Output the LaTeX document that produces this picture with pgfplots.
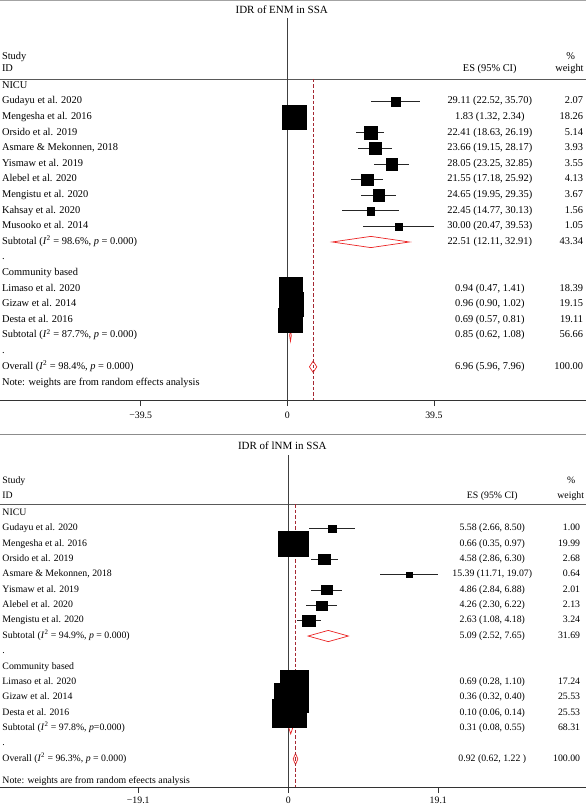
\documentclass[border=0pt]{standalone}
\usepackage{pgfplots}
\pgfplotsset{compat=1.18}
\usepackage{pgfplotstable}
\usepackage{fontspec}
\setmainfont{Liberation Serif}
\definecolor{dashred}{RGB}{165,40,50}
\definecolor{diared}{RGB}{235,35,35}
\definecolor{sepgray}{RGB}{140,140,140}

% top panel: row es lo hi weight
\pgfplotstableread{
row es lo hi w
1 29.11 22.52 35.70 2.07
2 1.83 1.32 2.34 18.26
3 22.41 18.63 26.19 5.14
4 23.66 19.15 28.17 3.93
5 28.05 23.25 32.85 3.55
6 21.55 17.18 25.92 4.13
7 24.65 19.95 29.35 3.67
8 22.45 14.77 30.13 1.56
9 30.00 20.47 39.53 1.05
13 0.94 0.47 1.41 18.39
14 0.96 0.90 1.02 19.15
15 0.69 0.57 0.81 19.11
}\topstudies

% bottom panel
\pgfplotstableread{
row es lo hi w
1 5.58 2.66 8.50 1.00
2 0.66 0.35 0.97 19.99
3 4.58 2.86 6.30 2.68
4 15.39 11.71 19.07 0.64
5 4.86 2.84 6.88 2.01
6 4.26 2.30 6.22 2.13
7 2.63 1.08 4.18 3.24
11 0.69 0.28 1.10 17.24
12 0.36 0.32 0.40 25.53
13 0.10 0.06 0.14 25.53
}\botstudies

\tikzset{
  ta/.style={font=\fontsize{10.4}{12}\selectfont, inner sep=0pt},
  tb/.style={font=\fontsize{9.8}{11}\selectfont, inner sep=0pt},
  ttl/.style={font=\fontsize{11}{13}\selectfont, inner sep=0pt},
}

\begin{document}
\begin{tikzpicture}
\useasboundingbox (0pt,0pt) rectangle (586pt,-807pt);

% ================= TOP PANEL =================
\begin{axis}[
  at={(0pt,0pt)}, anchor=north west,
  scale only axis, width=586pt, height=400pt,
  xmin=-77.42, xmax=80.49, ymin=-20.13, ymax=5.513,
  axis x line*=bottom, axis y line=none,
  xtick={-39.5,0,39.5}, xticklabels={−39.5,0,39.5},
  tick align=outside, major tick length=6pt,
  x axis line style={-, black!80, line width=0.6pt},
  xtick style={black!80, line width=0.6pt},
  xticklabel style={font=\fontsize{9.8}{11}\selectfont, anchor=mid, yshift=-10.5pt},
  ytick=\empty, clip=false,
]
% separators
\addplot[sepgray!80, line width=1pt] coordinates {(-77.42,5.45) (80.49,5.45)};
\addplot[black!65, line width=0.6pt] coordinates {(-77.42,0.45) (80.49,0.45)};
% zero line
\addplot[black!75, line width=0.6pt] coordinates {(0,4.36) (0,-20.13)};
% CIs
\addplot[black, line width=0.6pt, only marks, mark=none,
  error bars/.cd, x dir=both, x explicit, error mark=none,
  error bar style={black!85, line width=0.6pt}]
  table[x=es, y expr=-\thisrow{row},
        x error plus expr=\thisrow{hi}-\thisrow{es},
        x error minus expr=\thisrow{es}-\thisrow{lo}] {\topstudies};
% squares
\addplot[scatter, only marks, mark=square*, line width=0.2pt,
  scatter/use mapped color={draw=black, fill=black},
  visualization depends on={\thisrow{w} \as \wt},
  scatter/@pre marker code/.append style={/tikz/mark size={0.8+2.55*sqrt(\wt)}}]
  table[x=es, y expr=-\thisrow{row}] {\topstudies};
% diamonds
\addplot[diared, fill=white, line width=0.7pt] coordinates {(12.11,-10) (22.51,-9.64) (32.91,-10) (22.51,-10.36)} -- cycle;
\addplot[diared, fill=white, line width=0.7pt] coordinates {(0.62,-16) (0.85,-15.64) (1.08,-16) (0.85,-16.36)} -- cycle;
\addplot[diared, fill=white, line width=0.7pt] coordinates {(5.96,-18) (6.96,-17.64) (7.96,-18) (6.96,-18.36)} -- cycle;
% overall line
\addplot[dashred, line width=0.6pt, dash pattern=on 3.5pt off 2pt] coordinates {(6.96,0.45) (6.96,-20.13)};
% texts
\node[ttl, anchor=mid] at (axis cs:-1.5,4.81) {IDR of ENM in SSA};
\node[ta, anchor=mid west] at (axis cs:-76.93,1.86) {Study};
\node[ta, anchor=mid west] at (axis cs:-76.93,1.09) {ID};
\node[ta, anchor=mid] at (axis cs:54.57,1.09) {ES (95\% CI)};
\node[ta, anchor=mid] at (axis cs:76.4,1.86) {\%};
\node[ta, anchor=mid east] at (axis cs:79.9,1.09) {weight};
\node[ta, anchor=mid west] at (axis cs:-76.93,0) {NICU};
\foreach \r/\n/\e/\w in {
  1/Gudayu et al. 2020/29.11 (22.52{,} 35.70)/2.07,
  2/Mengesha et al. 2016/1.83 (1.32{,} 2.34)/18.26,
  3/Orsido et al. 2019/22.41 (18.63{,} 26.19)/5.14,
  4/Asmare \& Mekonnen{,} 2018/23.66 (19.15{,} 28.17)/3.93,
  5/Yismaw et al. 2019/28.05 (23.25{,} 32.85)/3.55,
  6/Alebel et al. 2020/21.55 (17.18{,} 25.92)/4.13,
  7/Mengistu et al. 2020/24.65 (19.95{,} 29.35)/3.67,
  8/Kahsay et al. 2020/22.45 (14.77{,} 30.13)/1.56,
  9/Musooko et al. 2014/30.00 (20.47{,} 39.53)/1.05,
  10/Subtotal (\textit{I}\textsuperscript{2} = 98.6\%{,} \textit{p} = 0.000)/22.51 (12.11{,} 32.91)/43.34,
  13/Limaso et al. 2020/0.94 (0.47{,} 1.41)/18.39,
  14/Gizaw et al. 2014/0.96 (0.90{,} 1.02)/19.15,
  15/Desta et al. 2016/0.69 (0.57{,} 0.81)/19.11,
  16/Subtotal (\textit{I}\textsuperscript{2} = 87.7\%{,} \textit{p} = 0.000)/0.85 (0.62{,} 1.08)/56.66,
  18/Overall (\textit{I}\textsuperscript{2} = 98.4\%{,} \textit{p} = 0.000)/6.96 (5.96{,} 7.96)/100.00}{
  \edef\tmp{\noexpand\node[ta, anchor=mid west] at (axis cs:-76.93,-\r) {\unexpanded\expandafter{\n}};
    \noexpand\node[ta, anchor=mid] at (axis cs:54.57,-\r) {\unexpanded\expandafter{\e}};
    \noexpand\node[ta, anchor=mid east] at (axis cs:79.76,-\r) {\w};}
  \tmp
}
\node[ta, anchor=mid west] at (axis cs:-76.93,-11) {.};
\node[ta, anchor=mid west] at (axis cs:-76.93,-12) {Community based};
\node[ta, anchor=mid west] at (axis cs:-76.93,-17) {.};
\node[ta, anchor=mid west] at (axis cs:-76.93,-19.05) {Note: weights are from random effects analysis};
\end{axis}

% ================= BOTTOM PANEL =================
\begin{axis}[
  at={(0pt,-435pt)}, anchor=north west,
  scale only axis, width=586pt, height=352pt,
  xmin=-36.71, xmax=37.91, ymin=-17.82, ymax=5.074,
  axis x line*=bottom, axis y line=none,
  xtick={-19.1,0,19.1}, xticklabels={−19.1,0,19.1},
  tick align=outside, major tick length=6pt,
  x axis line style={-, black!80, line width=0.6pt},
  xtick style={black!80, line width=0.6pt},
  xticklabel style={font=\fontsize{9.8}{11}\selectfont, anchor=mid, yshift=-8.5pt},
  ytick=\empty, clip=false,
]
\addplot[sepgray, line width=1.1pt] coordinates {(-36.71,5.10) (37.91,5.10)};
\addplot[black!65, line width=0.6pt] coordinates {(-36.71,0.585) (37.91,0.585)};
\addplot[black!75, line width=0.6pt] coordinates {(0,3.77) (0,-17.82)};
\addplot[black, line width=0.6pt, only marks, mark=none,
  error bars/.cd, x dir=both, x explicit, error mark=none,
  error bar style={black!85, line width=0.6pt}]
  table[x=es, y expr=-\thisrow{row},
        x error plus expr=\thisrow{hi}-\thisrow{es},
        x error minus expr=\thisrow{es}-\thisrow{lo}] {\botstudies};
\addplot[scatter, only marks, mark=square*, line width=0.2pt,
  scatter/use mapped color={draw=black, fill=black},
  visualization depends on={\thisrow{w} \as \wt},
  scatter/@pre marker code/.append style={/tikz/mark size={0.55+2.68*sqrt(\wt)}, /tikz/xscale=1.2}]
  table[x=es, y expr=-\thisrow{row}] {\botstudies};
\addplot[diared, fill=white, line width=0.7pt] coordinates {(2.52,-8) (5.09,-7.635) (7.65,-8) (5.09,-8.365)} -- cycle;
\addplot[diared, fill=white, line width=0.7pt] coordinates {(0.08,-14) (0.31,-13.635) (0.55,-14) (0.31,-14.365)} -- cycle;
\addplot[diared, fill=white, line width=0.7pt] coordinates {(0.62,-16) (0.92,-15.635) (1.22,-16) (0.92,-16.365)} -- cycle;
\addplot[dashred, line width=0.6pt, dash pattern=on 3.5pt off 2pt] coordinates {(0.92,0.585) (0.92,-17.82)};
\node[ttl, anchor=mid] at (axis cs:-0.76,4.29) {IDR of lNM in SSA};
\node[tb, anchor=mid west] at (axis cs:-36.42,2.08) {Study};
\node[tb, anchor=mid west] at (axis cs:-36.42,1.11) {ID};
\node[tb, anchor=mid] at (axis cs:25.98,1.11) {ES (95\% CI)};
\node[tb, anchor=mid] at (axis cs:36.04,2.08) {\%};
\node[tb, anchor=mid east] at (axis cs:37.69,1.11) {weight};
\node[tb, anchor=mid west] at (axis cs:-36.42,0) {NICU};
\foreach \r/\n/\e/\w in {
  1/Gudayu et al. 2020/5.58 (2.66{,} 8.50)/1.00,
  2/Mengesha et al. 2016/0.66 (0.35{,} 0.97)/19.99,
  3/Orsido et al. 2019/4.58 (2.86{,} 6.30)/2.68,
  4/Asmare \& Mekonnen{,} 2018/15.39 (11.71{,} 19.07)/0.64,
  5/Yismaw et al. 2019/4.86 (2.84{,} 6.88)/2.01,
  6/Alebel et al. 2020/4.26 (2.30{,} 6.22)/2.13,
  7/Mengistu et al. 2020/2.63 (1.08{,} 4.18)/3.24,
  8/Subtotal (\textit{I}\textsuperscript{2} = 94.9\%{,} \textit{p} = 0.000)/5.09 (2.52{,} 7.65)/31.69,
  11/Limaso et al. 2020/0.69 (0.28{,} 1.10)/17.24,
  12/Gizaw et al. 2014/0.36 (0.32{,} 0.40)/25.53,
  13/Desta et al. 2016/0.10 (0.06{,} 0.14)/25.53,
  14/Subtotal (\textit{I}\textsuperscript{2} = 97.8\%{,} \textit{p}=0.000)/0.31 (0.08{,} 0.55)/68.31,
  16/Overall (\textit{I}\textsuperscript{2} = 96.3\%{,} \textit{p} = 0.000)/0.92 (0.62{,} 1.22 )/100.00}{
  \edef\tmp{\noexpand\node[tb, anchor=mid west] at (axis cs:-36.42,-\r) {\unexpanded\expandafter{\n}};
    \noexpand\node[tb, anchor=mid] at (axis cs:25.98,-\r) {\unexpanded\expandafter{\e}};
    \noexpand\node[tb, anchor=mid east] at (axis cs:37.18,-\r) {\w};}
  \tmp
}
\node[tb, anchor=mid west] at (axis cs:-36.42,-9) {.};
\node[tb, anchor=mid west] at (axis cs:-36.42,-10) {Community based};
\node[tb, anchor=mid west] at (axis cs:-36.42,-15) {.};
\node[tb, anchor=mid west] at (axis cs:-36.42,-17.45) {Note: weights are from random efeects analysis};
\end{axis}
\end{tikzpicture}
\end{document}
